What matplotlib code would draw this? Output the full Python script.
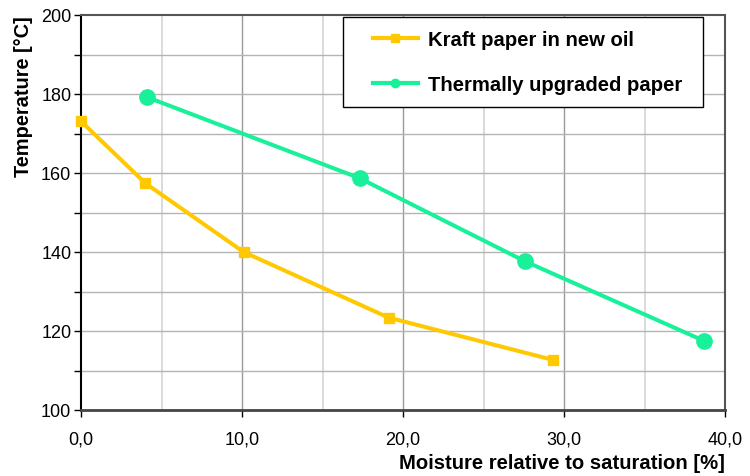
import matplotlib
matplotlib.use("Agg")
import matplotlib.pyplot as plt
from matplotlib.lines import Line2D
from matplotlib.patches import Rectangle
from matplotlib.ticker import FuncFormatter, MultipleLocator

plt.rcParams['font.family'] = ['Liberation Sans', 'DejaVu Sans']

# Moisture relative to saturation [%] vs. temperature [°C]
kraft_moisture = [0.0, 4.0, 10.1, 19.1, 29.3]
kraft_temp = [173.1, 157.4, 140.0, 123.4, 112.7]
upgraded_moisture = [4.1, 17.3, 27.6, 38.7]
upgraded_temp = [179.2, 158.7, 137.6, 117.5]

series_names = ["Kraft paper in new oil", "Thermally upgraded paper"]
x_label = "Moisture relative to saturation [%]"
y_label = "Temperature [°C]"

kraft_color = "#FFC800"
upgraded_color = "#18F09A"

W, H = 750, 477
fig = plt.figure(figsize=(W / 100, H / 100), dpi=100)
ax_l, ax_r, ax_t, ax_b = 81, 725, 16, 411
ax = fig.add_axes([ax_l / W, 1 - ax_b / H, (ax_r - ax_l) / W, (ax_b - ax_t) / H])

ax.set_xlim(0, 40)
ax.set_ylim(100, 200)

# grid: darker lines at every 10 %, lighter at the 5 % half-steps
for xv in [5, 15, 25, 35]:
    ax.axvline(xv, color="#d4d4d4", lw=1.2, zorder=0)
for xv in [10, 20, 30]:
    ax.axvline(xv, color="#9a9a9a", lw=1.0, zorder=0)
for yv in range(110, 200, 10):
    ax.axhline(yv, color="#b4b4b4", lw=1.0, zorder=0)

ax.plot(kraft_moisture, kraft_temp, color=kraft_color, lw=2.9, marker="s",
        ms=6.5, clip_on=False, zorder=3)
ax.plot(upgraded_moisture, upgraded_temp, color=upgraded_color, lw=2.9, marker="o",
        ms=11, clip_on=False, zorder=3)

ax.xaxis.set_major_locator(MultipleLocator(10))
ax.yaxis.set_major_locator(MultipleLocator(20))
ax.yaxis.set_minor_locator(MultipleLocator(10))
ax.xaxis.set_major_formatter(FuncFormatter(lambda v, p: f"{v:.1f}".replace(".", ",")))
ax.yaxis.set_major_formatter(FuncFormatter(lambda v, p: f"{v:.0f}"))
ax.tick_params(axis="both", which="major", direction="out", length=5, width=1,
               labelsize=13, color="black")
ax.tick_params(axis="y", which="minor", direction="out", length=5, width=1, color="black")
ax.tick_params(axis="x", pad=10)
ax.tick_params(axis="y", pad=2)

for side in ["top", "right"]:
    ax.spines[side].set_color("#555555")
    ax.spines[side].set_linewidth(1.5)
ax.spines["left"].set_color("black")
ax.spines["left"].set_linewidth(1.5)
ax.spines["bottom"].set_color("#444444")
ax.spines["bottom"].set_linewidth(2)

ax.set_xlabel(x_label, fontsize=14.6, fontweight="bold", loc="right", labelpad=4)
ax.set_ylabel(y_label, fontsize=14.4, fontweight="bold", loc="top", labelpad=6)

# legend box with entries placed inside it
to_axes = lambda px, py: ((px - ax_l) / (ax_r - ax_l), (ax_b - py) / (ax_b - ax_t))
bx0, by0 = to_axes(343, 108)
bx1, by1 = to_axes(703, 18)
ax.add_patch(Rectangle((bx0, by0), bx1 - bx0, by1 - by0, transform=ax.transAxes,
                       facecolor="white", edgecolor="black", lw=1, zorder=5,
                       clip_on=False))

handles = [
    Line2D([], [], color=kraft_color, lw=3, marker="s", ms=6),
    Line2D([], [], color=upgraded_color, lw=3, marker="o", ms=6),
]
leg = ax.legend(handles, series_names, loc="upper left",
                bbox_to_anchor=to_axes(373, 31),
                prop={"weight": "bold", "size": 14.6}, frameon=False,
                handlelength=2.2, handletextpad=0.5,
                labelspacing=1.28, borderpad=0, borderaxespad=0)
leg.set_zorder(6)

fig.savefig("out.png", dpi=100, facecolor="white")
